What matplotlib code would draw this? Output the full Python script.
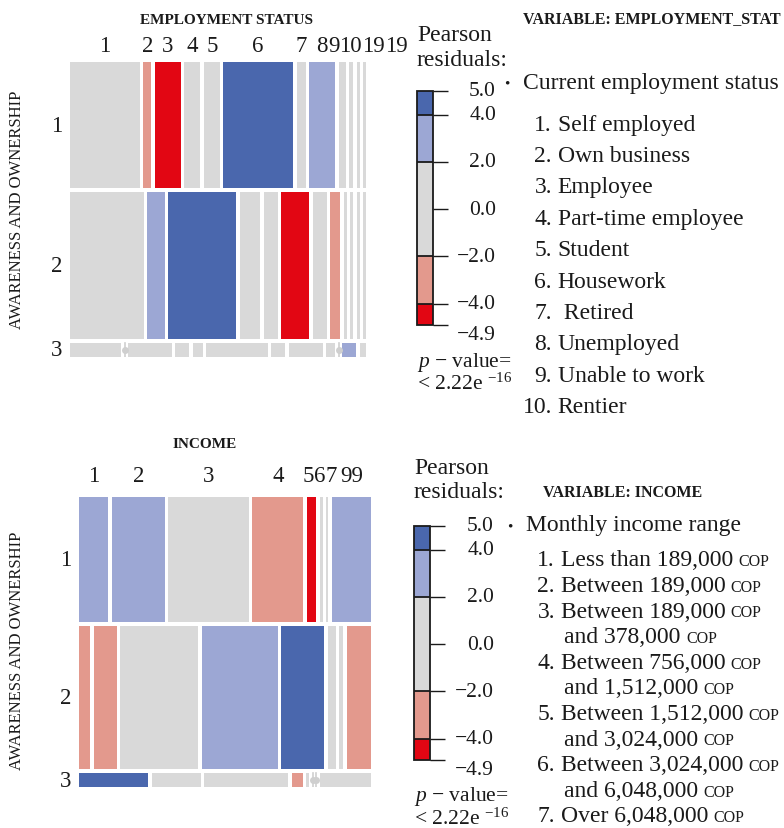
"""
Mosaic plots of awareness/ownership vs employment status and income,
shaded by Pearson residuals, with the variable keys on the right.
"""
import numpy as np
import matplotlib
matplotlib.use("Agg")
import matplotlib.pyplot as plt
from matplotlib.colors import ListedColormap, BoundaryNorm
from matplotlib.cm import ScalarMappable
from matplotlib.patches import Rectangle

plt.rcParams["font.family"] = ["Liberation Serif", "DejaVu Serif"]
plt.rcParams["mathtext.fontset"] = "custom"
plt.rcParams["mathtext.rm"] = "Liberation Serif"
plt.rcParams["mathtext.it"] = "Liberation Serif:italic"
plt.rcParams["text.color"] = "#1a1a1a"

INK = "#1a1a1a"
ZERO = "#cfcfcf"

# ── Data ──────────────────────────────────────────────────────
aware_levels = ["1", "2", "3"]

emp_levels = ["1", "2", "3", "4", "5", "6", "7", "8", "9", "10", "19", "19"]
emp_row_size = [126, 147, 14]
emp_freq = [
    [70, 8, 26, 16, 16, 70, 9, 26, 7, 4, 3, 3],
    [74, 18, 68, 21, 14, 28, 14, 10, 3, 3, 3, 3],
    [51, 0, 43, 14, 10, 61, 14, 34, 9, 0, 14, 6],
]
emp_resid = [
    [0.6, -2.6, -4.6, 0.9, 1.3, 4.8, -1.1, 3.1, 0.4, 0.5, 0.3, 0.3],
    [-0.5, 2.4, 4.9, -0.8, -1.1, -4.7, 1.0, -2.7, -0.3, -0.4, -0.2, -0.3],
    [-0.3, 0.0, 0.4, 0.2, 0.3, -1.3, 0.6, 1.6, 0.8, 0.0, 3.2, 0.1],
]

inc_levels = ["1", "2", "3", "4", "5", "6", "7", "99"]
inc_row_size = [125, 144, 14]
inc_freq = [
    [29, 53, 80, 51, 9, 3, 2, 39],
    [11, 23, 78, 76, 43, 8, 4, 24],
    [69, 49, 84, 11, 3, 0, 0, 51],
]
inc_resid = [
    [2.8, 3.0, 0.7, -3.2, -4.6, -0.5, -0.3, 3.4],
    [-2.5, -3.0, 0.4, 3.3, 4.8, 1.1, 0.6, -3.0],
    [4.6, -1.0, -1.3, -2.3, -0.5, 0.0, 0.0, 0.4],
]

resid_breaks = [-4.9, -4.0, -2.0, 2.0, 4.0, 5.0]
resid_ticks = [5.0, 4.0, 2.0, 0.0, -2.0, -4.0, -4.9]
shade_colors = ["#e20613", "#e3998d", "#d9d9d9", "#9ca7d4", "#4a67ad"]

emp_title = "VARIABLE: EMPLOYMENT_STAT"
emp_question = "Current employment status"
emp_items = ["Self employed", "Own business", "Employee", "Part-time employee",
             "Student", "Housework", " Retired", "Unemployed",
             "Unable to work", "Rentier"]

inc_title = "VARIABLE: INCOME"
inc_question = "Monthly income range"
inc_items = [
    ["Less than 189,000"],
    ["Between 189,000"],
    ["Between 189,000", "and 378,000"],
    ["Between 756,000", "and 1,512,000"],
    ["Between 1,512,000", "and 3,024,000"],
    ["Between 3,024,000", "and 6,048,000"],
    ["Over 6,048,000"],
]

cmap = ListedColormap(shade_colors)
norm = BoundaryNorm(resid_breaks, cmap.N, clip=True)

# ── Figure ────────────────────────────────────────────────────
W, H = 784, 829
fig = plt.figure(figsize=(W / 100, H / 100), dpi=100)
fig.patch.set_facecolor("white")

# overlay in pixel units for the free-standing text
ov = fig.add_axes([0, 0, 1, 1])
ov.set_xlim(0, W)
ov.set_ylim(H, 0)
ov.axis("off")
ov.patch.set_alpha(0)

renderer = fig.canvas.get_renderer()

LIST_FS = 17


def spread(centers, widths):
    """Group labels that overlap, centre each group, push groups right."""
    groups = [[0]]
    for i in range(1, len(centers)):
        j = groups[-1][-1]
        if centers[i] - widths[i] / 2 < centers[j] + widths[j] / 2:
            groups[-1].append(i)
        else:
            groups.append([i])
    out, prev_end = [], -np.inf
    for g in groups:
        w = np.array([widths[i] for i in g])
        rel = np.cumsum(w) - w / 2
        start = np.mean([centers[i] for i in g]) - rel.mean()
        start = max(start, prev_end)
        out.extend(start + rel)
        prev_end = start + w.sum()
    return out


def draw_mosaic(box, col_levels, row_size, freq, resid, gap, lab_dy):
    left, top, width, height = box
    ax = fig.add_axes([left / W, 1 - (top + height) / H, width / W, height / H])
    ax.set_xlim(0, width)
    ax.set_ylim(height, 0)
    ax.axis("off")

    nrow, ncol = len(freq), len(freq[0])
    hs = np.array(row_size, float)
    hs = hs / hs.sum() * (height - gap * (nrow - 1))
    y = 0.0
    first_centres = []
    for i in range(nrow):
        ws = np.array(freq[i], float)
        ws = ws / ws.sum() * (width - gap * (ncol - 1))
        x = 0.0
        for j in range(ncol):
            if ws[j] == 0:
                ax.plot([x, x], [y, y + hs[i]], color=ZERO, lw=1.2)
                ax.plot(x, y + hs[i] / 2, "o", ms=5, color=ZERO, mec="none")
            else:
                ax.add_patch(Rectangle((x, y), ws[j], hs[i], lw=0,
                                       facecolor=cmap(norm(resid[i][j]))))
            if i == 0:
                first_centres.append(x + ws[j] / 2)
            x += ws[j] + gap
        ax.text(-8, y + hs[i] / 2, aware_levels[i], ha="right", va="center",
                fontsize=16.5)
        y += hs[i] + gap

    labs = [ax.text(c, -lab_dy, lv, ha="center", va="center", fontsize=16.5)
            for c, lv in zip(first_centres, col_levels)]
    widths = [t.get_window_extent(renderer).width for t in labs]
    for t, xn in zip(labs, spread(first_centres, widths)):
        t.set_x(xn)
    return ax


def draw_key(box, lab_right, pearson_y, pval_y):
    left, top, width, height = box
    cax = fig.add_axes([left / W, 1 - (top + height) / H, width / W, height / H])
    cb = fig.colorbar(ScalarMappable(norm=norm, cmap=cmap), cax=cax,
                      boundaries=resid_breaks, spacing="proportional",
                      drawedges=True, ticks=resid_ticks)
    cb.outline.set_linewidth(1.3)
    cb.outline.set_edgecolor(INK)
    cb.dividers.set_color(INK)
    cb.dividers.set_linewidth(1.3)
    cax.tick_params(axis="y", length=11, width=1.0, color=INK,
                    labelright=False, right=True)
    xt = (lab_right - left) / width
    for v in resid_ticks:
        va = "top" if v == min(resid_ticks) else "center"
        cax.text(xt, v, f"{v:.1f}".replace("-", "\u2212"), ha="right", va=va,
                 fontsize=15.5, transform=cax.get_yaxis_transform())
    ov.text(left, pearson_y, "Pearson", ha="left", va="center", fontsize=17)
    ov.text(left, pearson_y + 25, "residuals:", ha="left", va="center",
            fontsize=17)
    ov.text(left, pval_y, "$p$ \u2212 value=", ha="left", va="center",
            fontsize=15.5)
    ov.text(left, pval_y + 22, "< 2.22e $^{\u221216}$", ha="left",
            va="center", fontsize=15.5)


def item(x_end, y, num, label, cop=False):
    t = ov.text(x_end, y, f"{num}.", ha="right", va="center",
                fontsize=LIST_FS)
    t2 = ov.annotate(label, xy=(1, 0.5), xycoords=t, xytext=(4, 0),
                     textcoords="offset points", ha="left", va="center",
                     fontsize=LIST_FS)
    if cop:
        ov.annotate("COP", xy=(1, 0), xycoords=t2, xytext=(4, 1),
                    textcoords="offset points", ha="left", va="bottom",
                    fontsize=11.5)


def cont(x, y, label):
    t = ov.text(x, y, label, ha="left", va="center", fontsize=LIST_FS)
    ov.annotate("COP", xy=(1, 0), xycoords=t, xytext=(4, 1),
                textcoords="offset points", ha="left", va="bottom",
                fontsize=11.5)


# ── Employment status panel ───────────────────────────────────
draw_mosaic((70, 63, 296, 295), emp_levels, emp_row_size, emp_freq,
            emp_resid, 3.5, 17)
ov.text(227, 20, "EMPLOYMENT STATUS", ha="center", va="center",
        fontsize=11, fontweight="bold")
ov.text(17, 210, "AWARENESS AND OWNERSHIP", ha="center", va="center",
        rotation=90, fontsize=12)
draw_key((417, 92, 16, 234), 496, 35, 362)

ov.text(523, 19, emp_title, ha="left", va="center", fontsize=11.5,
        fontweight="bold")
ov.text(507, 84, "\u2022", ha="center", va="center", fontsize=11)
ov.text(523, 83, emp_question, ha="left", va="center", fontsize=LIST_FS)
for k, lab in enumerate(emp_items):
    item(552, 125 + k * 31.4, k + 1, lab)

# ── Income panel ──────────────────────────────────────────────
draw_mosaic((79, 498, 292, 290), inc_levels, inc_row_size, inc_freq,
            inc_resid, 3.6, 21)
ov.text(205, 445, "INCOME", ha="center", va="center", fontsize=11,
        fontweight="bold")
ov.text(17, 651, "AWARENESS AND OWNERSHIP", ha="center", va="center",
        rotation=90, fontsize=12)
draw_key((414, 527, 16, 234), 494, 468, 797)

ov.text(543, 493, inc_title, ha="left", va="center", fontsize=11.5,
        fontweight="bold")
ov.text(510, 527, "\u2022", ha="center", va="center", fontsize=11)
ov.text(526, 526, inc_question, ha="left", va="center", fontsize=LIST_FS)
line = 0
for k, parts in enumerate(inc_items):
    item(555, 561 + line * 25.6, k + 1, parts[0], cop=True)
    line += 1
    for extra in parts[1:]:
        cont(564, 561 + line * 25.6, extra)
        line += 1

fig.savefig("out.png", dpi=100)
